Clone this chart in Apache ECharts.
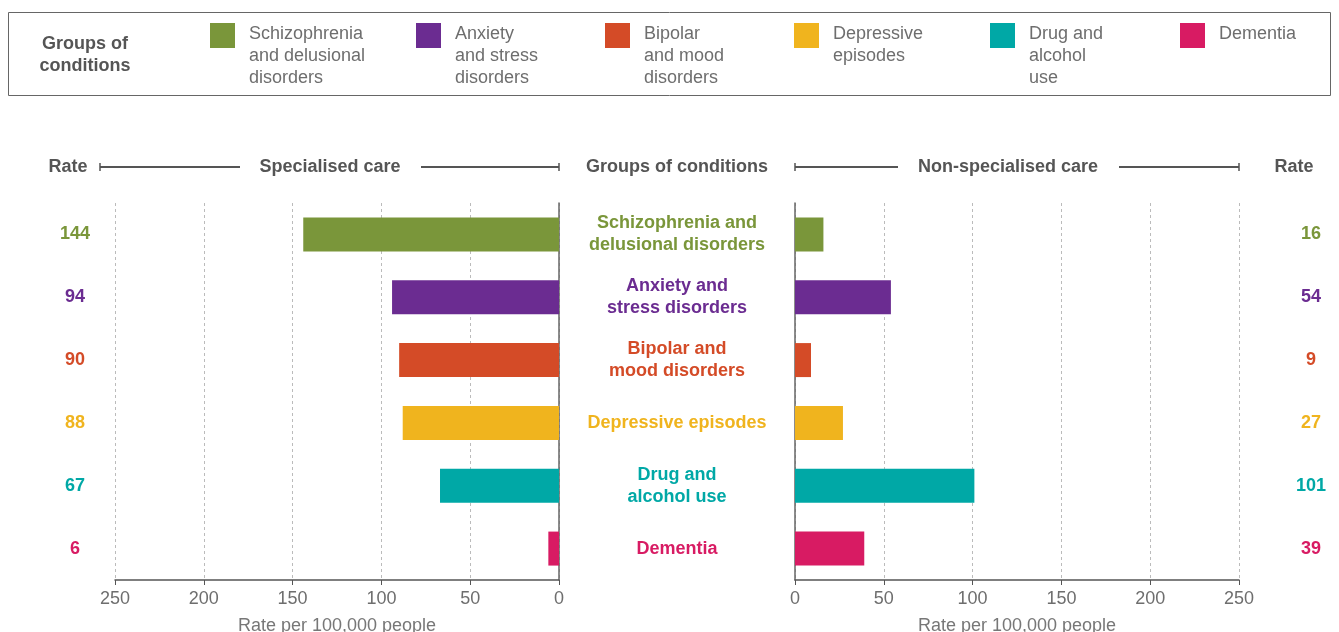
<!DOCTYPE html>
<html><head><meta charset="utf-8">
<script src="https://cdn.jsdelivr.net/npm/echarts@6/dist/echarts.min.js"></script>
<style>html,body{margin:0;padding:0;background:#fff}#c{width:1339px;height:632px}</style>
</head><body><div id="c"></div>
<script>
const categories = ["Schizophrenia and delusional disorders", "Anxiety and stress disorders", "Bipolar and mood disorders", "Depressive episodes", "Drug and alcohol use", "Dementia"];
const categoryLabels = ["Schizophrenia and\ndelusional disorders", "Anxiety and\nstress disorders", "Bipolar and\nmood disorders", "Depressive episodes", "Drug and\nalcohol use", "Dementia"];
const legendLabels = ["Schizophrenia\nand delusional\ndisorders", "Anxiety\nand stress\ndisorders", "Bipolar\nand mood\ndisorders", "Depressive\nepisodes", "Drug and\nalcohol\nuse", "Dementia"];
const specialised = [144, 94, 90, 88, 67, 6];
const nonSpecialised = [16, 54, 9, 27, 101, 39];
const colors = ["#7a963a", "#6b2c91", "#d44b27", "#f0b41e", "#00a8a6", "#d81b63"];
const axisName = "Rate per 100,000 people";
const headerLeft = "Specialised care";
const headerRight = "Non-specialised care";
const headerMid = "Groups of conditions";
const headerRate = "Rate";
const legendTitle = "Groups of\nconditions";

const FONT = "'Liberation Sans', Arial, sans-serif";
const legendX = [210, 416, 605, 794, 990, 1180];
const chart = echarts.init(document.getElementById('c'));

const graphic = [];
graphic.push({type:'rect', shape:{x:8.5, y:12.5, width:1322, height:83}, style:{fill:'none', stroke:'#666', lineWidth:1}});
graphic.push({type:'text', x:85, y:55, style:{text:legendTitle, font:'bold 18px '+FONT, fill:'#555', textAlign:'center', textVerticalAlign:'middle', lineHeight:22}});
legendLabels.forEach((t,i)=>{
  graphic.push({type:'rect', shape:{x:legendX[i], y:23, width:25, height:25}, style:{fill:colors[i]}});
  graphic.push({type:'text', x:legendX[i]+39, y:23, style:{text:t, font:'18px '+FONT, fill:'#6e6e6e', textVerticalAlign:'top', lineHeight:22}});
});
const hy = 167;
const hfont = 'bold 18px '+FONT;
function htext(x, t){
  graphic.push({type:'text', x:x, y:hy, style:{text:t, font:hfont, fill:'#555', textAlign:'center', textVerticalAlign:'middle'}});
}
htext(68, headerRate); htext(1294, headerRate); htext(330, headerLeft); htext(1008, headerRight); htext(677, headerMid);
const ls = {stroke:'#555', lineWidth:2};
[[100,240],[421,559],[795,898],[1119,1239]].forEach(s=>{
  graphic.push({type:'line', shape:{x1:s[0], y1:hy, x2:s[1], y2:hy}, style:ls});
});
[100,559,795,1239].forEach(x=>{
  graphic.push({type:'line', shape:{x1:x, y1:hy-4, x2:x, y2:hy+4}, style:{stroke:'#555', lineWidth:1.5}});
});

function xAxisCfg(grid, inverse){
  return {
    gridIndex:grid, type:'value', min:0, max:250, interval:50, inverse:inverse,
    axisLine:{show:true, lineStyle:{color:'#555', width:1.5}},
    axisTick:{show:true, length:5, lineStyle:{color:'#555'}},
    axisLabel:{fontSize:18, color:'#6e6e6e', margin:10, fontFamily:FONT},
    splitLine:{show:true, lineStyle:{type:[3,3], color:'#bbb'}},
    name:axisName, nameLocation:'middle', nameGap:37,
    nameTextStyle:{fontSize:18, color:'#777', fontFamily:FONT, verticalAlign:'top'}
  };
}
const colorFn = (v,i)=>colors[i];
chart.setOption({
  animation:false,
  graphic:graphic,
  grid:[
    {left:115, right:1339-559, top:203, bottom:52, outerBoundsMode:'none', containLabel:false},
    {left:795, right:1339-1239, top:203, bottom:52, outerBoundsMode:'none', containLabel:false}
  ],
  xAxis:[xAxisCfg(0,true), xAxisCfg(1,false)],
  yAxis:[
    {gridIndex:0, type:'category', data:categoryLabels, inverse:true, position:'right',
     axisLine:{show:true, lineStyle:{color:'#666', width:1.5}}, axisTick:{show:false},
     axisLabel:{margin:118, align:'center', fontSize:18, fontWeight:'bold', lineHeight:22, fontFamily:FONT, color:colorFn}},
    {gridIndex:0, type:'category', data:categories, inverse:true, position:'left',
     axisLine:{show:false}, axisTick:{show:false},
     axisLabel:{margin:40, align:'center', fontSize:18, fontWeight:'bold', fontFamily:FONT, color:colorFn,
       formatter:(v,i)=>String(specialised[i])}},
    {gridIndex:1, type:'category', data:categories, inverse:true, position:'left',
     axisLine:{show:true, lineStyle:{color:'#666', width:1.5}}, axisTick:{show:false}, axisLabel:{show:false}},
    {gridIndex:1, type:'category', data:categories, inverse:true, position:'right',
     axisLine:{show:false}, axisTick:{show:false},
     axisLabel:{margin:72, align:'center', fontSize:18, fontWeight:'bold', fontFamily:FONT, color:colorFn,
       formatter:(v,i)=>String(nonSpecialised[i])}}
  ],
  series:[
    {type:'bar', xAxisIndex:0, yAxisIndex:0, barWidth:34, silent:true,
     data:specialised.map((v,i)=>({value:v, itemStyle:{color:colors[i]}}))},
    {type:'bar', xAxisIndex:1, yAxisIndex:2, barWidth:34, silent:true,
     data:nonSpecialised.map((v,i)=>({value:v, itemStyle:{color:colors[i]}}))}
  ]
});
</script></body></html>
